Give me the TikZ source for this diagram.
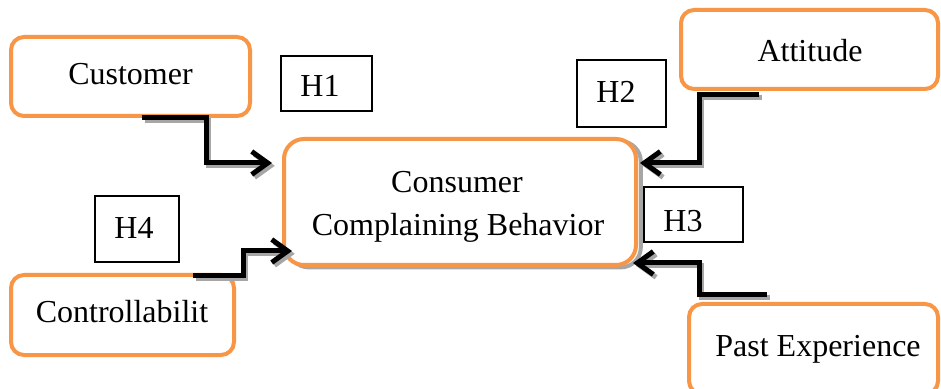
\documentclass[tikz,border=0pt]{standalone}
\usepackage{fontspec}
\setmainfont{Liberation Serif}
\usetikzlibrary{arrows.meta,calc}
\definecolor{boxorange}{HTML}{F79646}
\definecolor{shadowgray}{HTML}{A6A6A6}
\begin{document}
\begin{tikzpicture}[x=0.5pt,y=-0.5pt,
  obox/.style={draw=boxorange, line width=2pt, rounded corners=6.5pt, fill=white, inner sep=0pt},
  hbox/.style={draw=black, line width=0.6pt, inner sep=0pt, fill=white},
  lbl/.style={font=\fontsize{16}{19}\selectfont, anchor=base, inner sep=0pt},
  conn/.style={line width=2.5pt, -{Straight Barb[length=8pt,width=11.5pt]}},
  connshadow/.style={conn, draw=shadowgray, transform canvas={xshift=1.4pt,yshift=-1.4pt}},
]
\useasboundingbox (0,0) rectangle (941,389);
\clip (0,0) rectangle (941,389);
\fill[white] (0,0) rectangle (941,389);

% central box shadow and box
\node[draw=shadowgray, line width=2pt, rounded corners=10pt, minimum width=176pt, minimum height=63pt, inner sep=0pt,
      transform canvas={xshift=1.2pt,yshift=-0.6pt}] (cboxsh) at (460,202) {};
\node[obox, rounded corners=10pt, minimum width=176pt, minimum height=63pt] (cbox) at (460,202) {};
\node[lbl] (cbt1) at (457,193) {Consumer};
\node[lbl] (cbt2) at (458,236) {Complaining Behavior};

% outer boxes
\node[obox, minimum width=119.5pt, minimum height=39.5pt] (cust) at (130.5,76.5) {};
\node[lbl] (custt) at (130.5,85) {Customer};
\node[obox, minimum width=128.5pt, minimum height=39.5pt] (att) at (809.5,49.5) {};
\node[lbl] (attt) at (810,62) {Attitude};
\node[obox, minimum width=111.5pt, minimum height=40pt] (ctrl) at (122.5,315) {};
\node[lbl] (ctrlt) at (122,322) {Controllabilit};
\node[obox, minimum width=124.5pt, minimum height=45pt] (past) at (813.5,349) {};
\node[lbl] (pastt) at (818,357) {Past Experience};

% hypothesis boxes
\node[hbox, minimum width=45.5pt, minimum height=27.5pt] (h1) at (326.5,83.5) {};
\node[lbl] (h1t) at (320,97) {H1};
\node[hbox, minimum width=44.5pt, minimum height=33.5pt] (h2) at (621.5,93.5) {};
\node[lbl] (h2t) at (616,103) {H2};
\node[hbox, minimum width=49.5pt, minimum height=27.5pt] (h3) at (693.5,214.5) {};
\node[lbl] (h3t) at (683,232) {H3};
\node[hbox, minimum width=42pt, minimum height=33pt] (h4) at (137,229) {};
\node[lbl] (h4t) at (134,239) {H4};

% connector end points
\coordinate (s1) at (142,118);  \coordinate (t1) at (272,163);
\coordinate (s2) at (759,95);   \coordinate (t2) at (640,163);
\coordinate (s3) at (767,295);  \coordinate (t3) at (633,263);
\coordinate (s4) at (193,276);  \coordinate (t4) at (292,251);

% shadows
\draw[connshadow] (s1) -- ++(64,0) |- (t1);
\draw[connshadow] (s2) -- ++(-60,0) |- (t2);
\draw[connshadow] (s3) -- ++(-68,0) |- (t3);
\draw[connshadow] (s4) -- ++(50,0) |- (t4);
% connectors
\draw[conn] (s1) -- ++(64,0) |- (t1);
\draw[conn] (s2) -- ++(-60,0) |- (t2);
\draw[conn] (s3) -- ++(-68,0) |- (t3);
\draw[conn] (s4) -- ++(50,0) |- (t4);
\end{tikzpicture}
\end{document}
